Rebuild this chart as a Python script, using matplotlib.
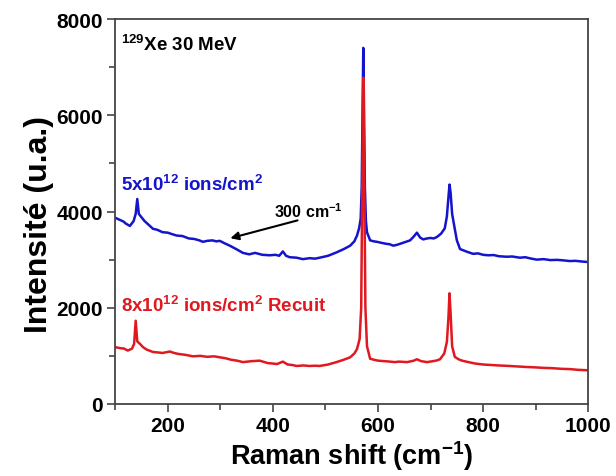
import matplotlib
matplotlib.use('Agg')
import matplotlib.pyplot as plt
from matplotlib.ticker import MultipleLocator

plt.rcParams['font.family'] = ['Liberation Sans', 'DejaVu Sans']
plt.rcParams['font.weight'] = 'bold'
plt.rcParams['mathtext.fontset'] = 'custom'
plt.rcParams['mathtext.rm'] = 'Liberation Sans:bold'
plt.rcParams['mathtext.bf'] = 'Liberation Sans:bold'
plt.rcParams['mathtext.default'] = 'regular'

# spectrum 5x10^12 ions/cm2 (blue)
blue_shift = [100, 106, 110, 116, 120, 128, 135, 139, 142, 145, 150, 156, 160, 166, 172, 180, 190,
              200, 208, 217, 228, 240, 250, 260, 267, 275, 285, 292, 299, 308, 318, 330, 343,
              355, 366, 380, 394, 405, 412, 419, 425, 432, 445, 457, 470, 480, 489, 505,
              521, 535, 547, 555, 560, 564, 567, 569, 571, 572, 573, 575, 577, 579, 585,
              592, 598, 606, 615, 622, 629, 637, 645, 653, 661, 668, 674, 680, 686, 693, 700,
              706, 712, 720, 727, 731, 734, 736, 738, 741, 746, 750, 756, 763, 770, 781,
              790, 800, 810, 820, 830, 845, 855, 870, 880, 892, 902, 915, 928, 940, 952,
              965, 975, 988, 1000]
blue_int = [3870, 3840, 3820, 3790, 3750, 3700, 3800, 3950, 4260, 3950, 3880, 3800, 3760, 3700,
            3640, 3620, 3570, 3560, 3530, 3500, 3490, 3440, 3430, 3400, 3370, 3390, 3400, 3380,
            3390, 3340, 3290, 3220, 3140, 3110, 3140, 3100, 3090, 3100, 3080, 3170, 3080, 3050,
            3040, 3010, 3030, 3020, 3040, 3080,
            3150, 3220, 3290, 3380, 3500, 3650, 3850, 4500, 6500, 7400, 6500, 4500, 3800, 3570,
            3400, 3380, 3370, 3350, 3330, 3320, 3290, 3310, 3340, 3370, 3400, 3480, 3560, 3460,
            3420, 3440, 3450, 3440, 3470, 3540, 3650, 3900, 4300, 4560, 4400, 3950, 3640, 3400,
            3220, 3190, 3160, 3120, 3130, 3100, 3090, 3095, 3070, 3060, 3065, 3040, 3050, 3020,
            3000, 3010, 2990, 2995, 2985, 2970, 2975, 2960, 2950]

# spectrum 8x10^12 ions/cm2 annealed (red)
red_shift = [100, 110, 117, 124, 132, 136, 139, 142, 147, 153, 160, 172, 182, 190, 204, 212,
             220, 234, 248, 262, 275, 288, 299, 310, 320, 332, 343, 360, 375, 390, 400, 408,
             419, 428, 437, 445, 458, 470, 480, 489, 505, 521, 535, 547, 555, 560, 565, 568,
             570, 572, 574, 576, 579, 585, 592, 600, 612, 623, 632, 640, 648, 655, 662, 668,
             674, 682, 693, 705, 712, 718, 726, 731, 734, 736, 738, 741, 746, 753, 760, 772,
             785, 800, 815, 830, 850, 865, 880, 900, 915, 930, 950, 965, 980, 1000]
red_int = [1180, 1160, 1150, 1110, 1150, 1250, 1730, 1300, 1250, 1180, 1130, 1080, 1070, 1060,
           1090, 1060, 1040, 1020, 990, 1000, 980, 990, 970, 950, 920, 900, 870, 890, 900, 850,
           840, 830, 880, 820, 810, 790, 800, 790, 795, 790, 820, 870, 920, 970, 1050, 1140,
           1350, 2000, 4500, 6780, 4500, 2000, 1200, 940, 920, 900, 890, 880, 870, 880, 875,
           870, 885, 900, 930, 890, 870, 890, 905, 930, 1050, 1290, 1800, 2300, 1900, 1200,
           980, 930, 900, 870, 840, 820, 810, 800, 790, 780, 770, 760, 750, 745, 730, 725,
           710, 700]

x_ticks = [200, 400, 600, 800, 1000]
y_ticks = [0, 2000, 4000, 6000, 8000]

fig = plt.figure(figsize=(6.16, 4.77), dpi=100)
ax = fig.add_axes([0.187, 0.151, 0.768, 0.807])

ax.plot(blue_shift, blue_int, color='#1414cc', lw=1.8)
ax.plot(red_shift, red_int, color='#e01820', lw=1.8)

ax.set_xlim(100, 1000)
ax.set_ylim(0, 8000)
ax.set_xticks(x_ticks)
ax.set_yticks(y_ticks)
ax.xaxis.set_minor_locator(MultipleLocator(100))
ax.yaxis.set_minor_locator(MultipleLocator(1000))
ax.tick_params(which='major', direction='out', length=6, width=1.2, color='#444444',
               labelsize=15, pad=3)
ax.tick_params(which='minor', direction='out', length=4, width=1.2, color='#444444')
for lab in ax.get_xticklabels() + ax.get_yticklabels():
    lab.set_fontweight('bold')
for sp in ax.spines.values():
    sp.set_color('#444444')
    sp.set_linewidth(1.3)

ax.set_xlabel('Raman shift (cm$^{-1}$)', fontsize=19.5, fontweight='bold', labelpad=2)
ax.set_ylabel('Intensité (u.a.)', fontsize=23, fontweight='bold')
ax.yaxis.set_label_coords(-0.13, 0.47)

ax.text(112, 7480, '$^{129}$Xe 30 MeV', fontsize=13.5, fontweight='bold', va='center')
ax.text(112, 4570, '5x10$^{12}$ ions/cm$^{2}$', fontsize=13.5, fontweight='bold',
        color='#1414cc', va='center')
ax.text(112, 2060, '8x10$^{12}$ ions/cm$^{2}$ Recuit', fontsize=13.5, fontweight='bold',
        color='#e01820', va='center')
ax.text(467, 4020, '300 cm$^{-1}$', fontsize=11.5, fontweight='bold', ha='center', va='center')
ax.annotate('', xy=(314, 3430), xytext=(452, 3830),
            arrowprops=dict(arrowstyle='-|>', lw=1.5, color='black', mutation_scale=12))

fig.savefig('out.png', dpi=100)
